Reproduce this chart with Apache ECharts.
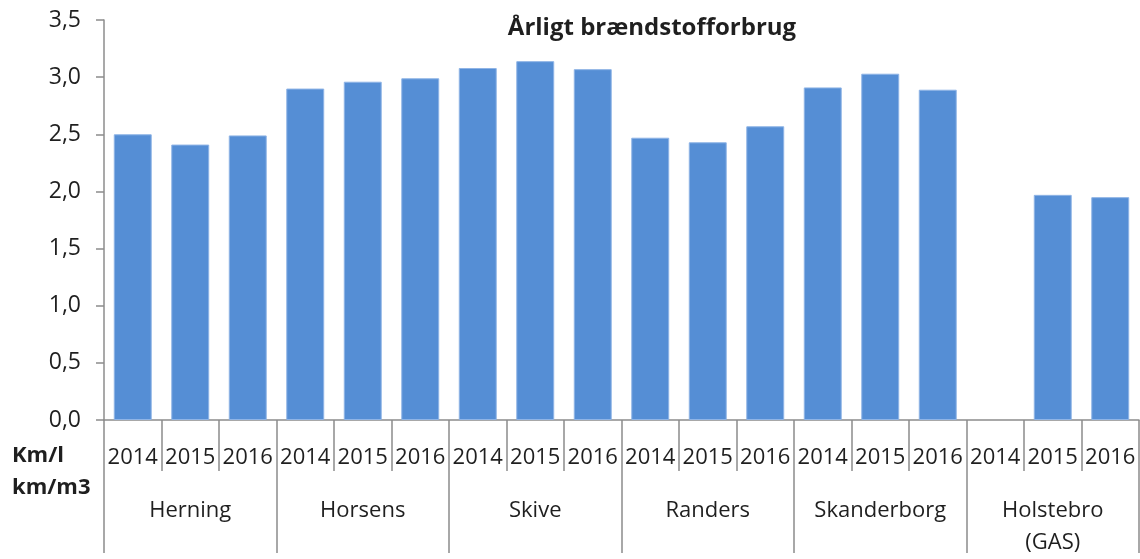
<!DOCTYPE html>
<html>
<head>
<meta charset="utf-8">
<script src="https://cdn.jsdelivr.net/npm/echarts@6/dist/echarts.min.js"></script>
<style>
html,body{margin:0;padding:0;background:#fff;}
#chart{width:1140px;height:559px;}
</style>
</head>
<body>
<div id="chart"></div>
<script>
var years = ['2014','2015','2016','2014','2015','2016','2014','2015','2016','2014','2015','2016','2014','2015','2016','2014','2015','2016'];
var cities = ['Herning','Horsens','Skive','Randers','Skanderborg','Holstebro\n(GAS)'];
var values = [2.50,2.41,2.49, 2.90,2.96,2.99, 3.08,3.14,3.07, 2.47,2.43,2.57, 2.91,3.03,2.89, null,1.97,1.95];
var yTicks = {min:0, max:3.5, interval:0.5};
var titleText = 'Årligt brændstofforbrug';
var unitText = 'Km/l\nkm/m3';

var FONT = 'Open Sans';
var axisColor = '#8c8c8c';
var textColor = '#1f1f1f';

var chart = echarts.init(document.getElementById('chart'));
chart.setOption({
  animation:false,
  title:{
    text:titleText, left:647, top:11, textAlign:'center',
    textStyle:{fontFamily:FONT, fontWeight:'bold', fontSize:24, color:textColor}
  },
  graphic:[{
    type:'text', left:12, top:440,
    style:{text:unitText, fontFamily:FONT, fontWeight:'bold', fontSize:22, lineHeight:32, align:'center', fill:textColor}
  }],
  grid:{left:104, right:1, top:20, bottom:133, containLabel:false},
  xAxis:[{
    type:'category', data:years, position:'bottom',
    axisLine:{show:true, lineStyle:{color:axisColor, width:1.5}},
    axisTick:{show:true, interval:0, length:51, lineStyle:{color:axisColor, width:1.5}},
    axisLabel:{interval:0, margin:27, fontFamily:FONT, fontSize:22, color:textColor, lineHeight:22}
  },{
    type:'category', data:cities, position:'bottom', offset:0,
    axisLine:{show:false},
    axisTick:{show:true, interval:0, length:133, lineStyle:{color:axisColor, width:1.5}},
    axisLabel:{interval:0, margin:75, fontFamily:FONT, fontSize:22, color:textColor, lineHeight:32}
  }],
  yAxis:{
    type:'value', min:yTicks.min, max:yTicks.max, interval:yTicks.interval,
    axisLine:{show:true, lineStyle:{color:axisColor, width:1.5}},
    axisTick:{show:true, length:8, lineStyle:{color:axisColor, width:1.5}},
    splitLine:{show:false},
    axisLabel:{margin:23, fontFamily:FONT, fontSize:23, color:textColor,
      formatter:function(v){return v.toFixed(1).replace('.',',');}}
  },
  series:[{
    type:'bar', xAxisIndex:0, data:values, barCategoryGap:'34%',
    itemStyle:{color:'#558ED5', borderColor:'#8fb4e6', borderWidth:1}
  }]
});
</script>
</body>
</html>
